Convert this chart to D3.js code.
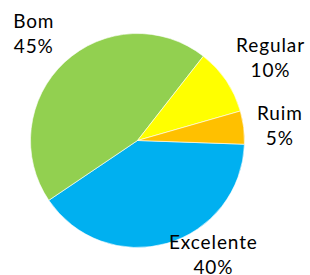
<!DOCTYPE html>
<html><head><meta charset="utf-8">
<script src="https://cdn.jsdelivr.net/npm/d3@7"></script>
<style>html,body{margin:0;padding:0;background:#fff;overflow:hidden}</style>
</head><body>
<svg id="chart" width="310" height="275"></svg>
<script>
const categories = ["Excelente", "Bom", "Regular", "Ruim"];
const values = [40, 45, 10, 5];
const percentLabels = ["40%", "45%", "10%", "5%"];
const colors = ["#00B0F0", "#92D050", "#FFFF00", "#FFC000"];

const cx = 137.5, cy = 140.5, radius = 107;
const startDeg = 92;
// label layout: angle (deg, clockwise from top) and distance from centre for each label centre
const labelLayout = [
  {angle: 146.5, dist: 137.5},
  {angle: 315.5, dist: 148},
  {angle: 58.5, dist: 156},
  {angle: 84.5, dist: 143}
];

const svg = d3.select("#chart");
const g = svg.append("g").attr("transform", `translate(${cx},${cy})`);
const pie = d3.pie().sort(null).value(d => d.value)
  .startAngle(startDeg * Math.PI / 180).endAngle((startDeg + 360) * Math.PI / 180);
const data = categories.map((c, i) => ({cat: c, value: values[i], pct: percentLabels[i], color: colors[i]}));
const arcs = pie(data);
const arc = d3.arc().innerRadius(0).outerRadius(radius);

g.selectAll("path").data(arcs).join("path")
  .attr("d", arc).attr("fill", d => d.data.color)
  .attr("stroke", "#fff").attr("stroke-width", 0.6);

const fontSize = 19, lineH = 25;
const lbl = g.selectAll("g.lbl").data(arcs).join("g").attr("class", "lbl")
  .attr("transform", (d, i) => {
    const a = labelLayout[i].angle * Math.PI / 180, r = labelLayout[i].dist;
    return `translate(${r * Math.sin(a)},${-r * Math.cos(a)})`;
  });
const t = lbl.append("text").attr("text-anchor", "middle")
  .attr("font-family", "Lato, 'Open Sans', sans-serif").attr("font-size", fontSize)
  .attr("letter-spacing", 0.9).attr("fill", "#000");
t.append("tspan").attr("x", 0).attr("y", -lineH / 2 + 6).text(d => d.data.cat);
t.append("tspan").attr("x", 0).attr("y", lineH / 2 + 6).text(d => d.data.pct);
</script>
</body></html>
